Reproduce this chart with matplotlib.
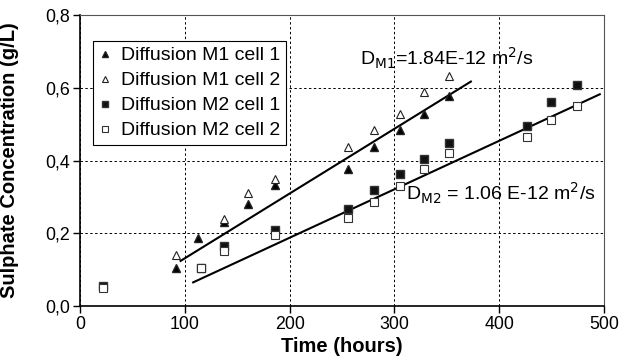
import matplotlib.pyplot as plt
import matplotlib.ticker as mticker

plt.rcParams["font.family"] = ["Liberation Sans", "DejaVu Sans"]

# ── data ───────────────────────────────────────────────────────────────────
t_m1 = [92, 113, 137, 160, 186, 256, 281, 305, 328, 352]
m1_cell1 = [0.105, 0.188, 0.232, 0.280, 0.332, 0.377, 0.438, 0.484, 0.527, 0.578]
t_m1c2 = [92, 137, 160, 186, 256, 281, 305, 328, 352]
m1_cell2 = [0.139, 0.240, 0.310, 0.350, 0.438, 0.484, 0.527, 0.589, 0.632]

t_m2 = [22, 115, 137, 186, 256, 281, 305, 328, 352, 427, 449, 474]
m2_cell1 = [0.055, 0.105, 0.165, 0.209, 0.268, 0.319, 0.363, 0.403, 0.449, 0.495, 0.560, 0.607]
m2_cell2 = [0.050, 0.105, 0.151, 0.195, 0.243, 0.285, 0.330, 0.376, 0.420, 0.464, 0.511, 0.550]

# fitted lines (end points)
fit_m1_t = [96, 373]
fit_m1_c = [0.124, 0.617]
fit_m2_t = [108, 496]
fit_m2_c = [0.065, 0.582]

fig = plt.figure(figsize=(6.22, 3.63), dpi=100)
ax = fig.add_axes([0.1286, 0.157, 0.8424, 0.8017])

ax.plot(fit_m1_t, fit_m1_c, color="black", lw=1.5, zorder=2)
ax.plot(fit_m2_t, fit_m2_c, color="black", lw=1.5, zorder=2)

ax.plot(t_m1, m1_cell1, "^", color="black", ms=5.5, mec="#222222",
        label="Diffusion M1 cell 1", zorder=3)
ax.plot(t_m1c2, m1_cell2, "^", mfc="white", mec="#222222", mew=0.8, ms=5.5,
        label="Diffusion M1 cell 2", zorder=3)
ax.plot(t_m2, m2_cell1, "s", color="#111111", mec="#333333", ms=5.5,
        label="Diffusion M2 cell 1", zorder=3)
ax.plot(t_m2, m2_cell2, "s", mfc="white", mec="#333333", mew=0.8, ms=5.5,
        label="Diffusion M2 cell 2", zorder=3)

ax.set_xlim(0, 500)
ax.set_ylim(0, 0.8)
ax.set_xticks([0, 100, 200, 300, 400, 500])
ax.set_yticks([0, 0.2, 0.4, 0.6, 0.8])
ax.yaxis.set_major_formatter(mticker.FuncFormatter(lambda v, _: f"{v:.1f}".replace(".", ",")))
ax.tick_params(labelsize=12.8, length=5, width=1, direction="out", pad=2)
ax.grid(color="black", linestyle=(0, (2.5, 2.5)), linewidth=0.7)

for side in ["top", "right"]:
    ax.spines[side].set_color("#555555")
for side in ["left", "bottom"]:
    ax.spines[side].set_linewidth(1.2)

ax.set_xlabel("Time (hours)", fontsize=14.5, fontweight="bold", labelpad=3)
ax.set_ylabel("Sulphate Concentration (g/L)", fontsize=14.5, fontweight="bold", labelpad=6)
ax.yaxis.set_label_coords(-0.117, 0.5)

ax.text(267, 0.6625, r"D$_{\mathrm{M1}}$=1.84E-12 m$^{2}$/s", fontsize=14, va="baseline")
ax.text(311, 0.291, r"D$_{\mathrm{M2}}$ = 1.06 E-12 m$^{2}$/s", fontsize=14, va="baseline")

leg = ax.legend(loc="upper left", bbox_to_anchor=(0.025, 0.911), fontsize=14,
                frameon=True, fancybox=False, edgecolor="black", framealpha=1,
                handlelength=0.6, handletextpad=0.55, borderpad=0.3,
                labelspacing=0.38, markerscale=0.75, borderaxespad=0)
leg.get_frame().set_linewidth(0.8)

fig.savefig("out.png", dpi=100)
